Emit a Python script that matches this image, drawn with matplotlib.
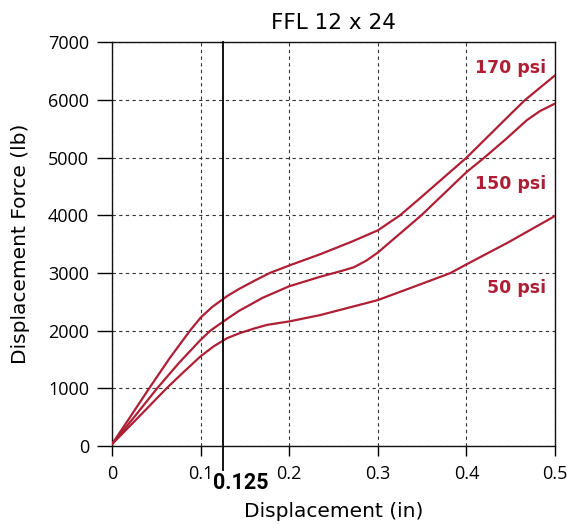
import matplotlib.pyplot as plt

# displacement (in) and force (lb)
x_170 = [0.0, 0.02, 0.042, 0.065, 0.088, 0.1, 0.113, 0.13, 0.143, 0.16, 0.178,
         0.2, 0.235, 0.27, 0.3, 0.325, 0.35, 0.4, 0.45, 0.466, 0.5]
y_170 = [30, 490, 1000, 1520, 2000, 2225, 2410, 2600, 2720, 2860, 3000,
         3130, 3326, 3540, 3740, 4000, 4330, 5000, 5760, 6000, 6430]

x_150 = [0.0, 0.025, 0.051, 0.075, 0.1, 0.111, 0.13, 0.143, 0.17, 0.2, 0.235,
         0.26, 0.273, 0.287, 0.3, 0.349, 0.4, 0.42, 0.445, 0.468, 0.483, 0.5]
y_150 = [30, 500, 1000, 1430, 1840, 2000, 2205, 2340, 2570, 2770, 2935,
         3040, 3100, 3215, 3355, 4000, 4750, 5000, 5330, 5650, 5810, 5940]

x_50 = [0.0, 0.03, 0.0616, 0.08, 0.1, 0.115, 0.13, 0.143, 0.16, 0.175, 0.2,
        0.235, 0.265, 0.3, 0.35, 0.382, 0.4, 0.4465, 0.5]
y_50 = [30, 500, 1000, 1270, 1555, 1730, 1870, 1950, 2035, 2100, 2160,
        2270, 2390, 2530, 2815, 3000, 3150, 3526, 3990]

x_ticks = [0, 0.1, 0.2, 0.3, 0.4, 0.5]
x_ticklabels = ["0", "0.1", "0.2", "0.3", "0.4", "0.5"]
y_ticks = [0, 1000, 2000, 3000, 4000, 5000, 6000, 7000]
marker_x = 0.125

RED = "#ae1f35"
TXT = "DejaVu Sans"
NUM = "Open Sans"

fig = plt.figure(figsize=(5.67, 5.24), dpi=100)
ax = fig.add_axes([0.1975, 0.149, 0.7815, 0.770])

for xs, ys in [(x_170, y_170), (x_150, y_150), (x_50, y_50)]:
    ax.plot(xs, ys, color=RED, lw=1.6, solid_capstyle="round",
            solid_joinstyle="round", zorder=3)

ax.set_xlim(0, 0.5)
ax.set_ylim(0, 7000)
ax.set_xticks(x_ticks)
ax.set_xticklabels(x_ticklabels)
ax.set_yticks(y_ticks)
ax.grid(True, color="#333333", ls=(0, (3, 3)), lw=0.8)

ax.tick_params(axis="y", length=10.5, width=1, pad=6, labelsize=13)
ax.tick_params(axis="x", length=7.5, width=1, pad=6, labelsize=13)
for lab in ax.get_xticklabels() + ax.get_yticklabels():
    lab.set_fontfamily(NUM)
for s in ax.spines.values():
    s.set_color("#111111")
    s.set_linewidth(1.0)

# 0.125 in marker line, runs past the axis down to its label
ax.axvline(marker_x, ymin=-0.059, ymax=1, color="black", lw=1.3,
           clip_on=False, zorder=4)
ax.annotate("0.125", xy=(marker_x, 0), xycoords=("data", "axes fraction"),
            xytext=(13, -27), textcoords="offset points", ha="center",
            va="center", fontsize=15.5, fontweight="bold",
            fontfamily="Roboto")

ax.text(0.49, 6560, "170 psi", color=RED, ha="right", va="center",
        fontsize=12.5, fontweight="bold", fontfamily=TXT)
ax.text(0.49, 4549, "150 psi", color=RED, ha="right", va="center",
        fontsize=12.5, fontweight="bold", fontfamily=TXT)
ax.text(0.49, 2745, "50 psi", color=RED, ha="right", va="center",
        fontsize=12.5, fontweight="bold", fontfamily=TXT)

ax.set_title("FFL 12 x 24", fontsize=15.5, fontfamily=TXT, pad=10)
ax.set_xlabel("Displacement (in)", fontsize=14.5, fontfamily=TXT, labelpad=14)
ax.set_ylabel("Displacement Force (lb)", fontsize=14.5, fontfamily=TXT,
              labelpad=13)

fig.savefig("out.png", dpi=100)
